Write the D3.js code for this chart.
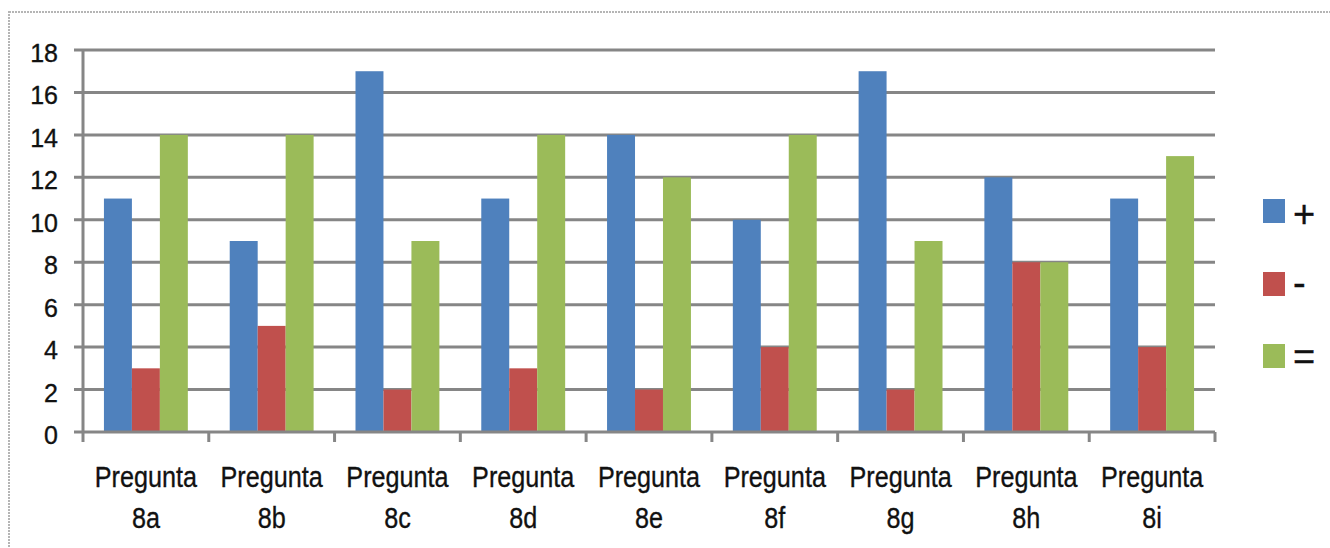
<!DOCTYPE html>
<html>
<head>
<meta charset="utf-8">
<script src="https://cdn.jsdelivr.net/npm/d3@7"></script>
<style>
  html, body { margin: 0; padding: 0; background: #fff; }
  svg { display: block; }
  text { font-family: "Liberation Sans", Arial, sans-serif; fill: #111; stroke: #111; stroke-width: 0.35px; }
</style>
</head>
<body>
<svg id="chart" width="1330" height="548"></svg>
<script>
const categories = ["8a", "8b", "8c", "8d", "8e", "8f", "8g", "8h", "8i"];
const seriesNames = ["+", "-", "="];
const seriesColors = ["#4F81BD", "#C0504D", "#9BBB59"];
const plusValues = [11, 9, 17, 11, 14, 10, 17, 12, 11];
const minusValues = [3, 5, 2, 3, 2, 4, 2, 8, 4];
const equalValues = [14, 14, 9, 14, 12, 14, 9, 8, 13];
const yTicks = [0, 2, 4, 6, 8, 10, 12, 14, 16, 18];

const series = [plusValues, minusValues, equalValues];

const svg = d3.select("#chart");

// outer dotted border
svg.append("rect")
  .attr("x", 9).attr("y", 12)
  .attr("width", 1340).attr("height", 600)
  .attr("fill", "none")
  .attr("stroke", "#b5b5b5")
  .attr("stroke-width", 2)
  .attr("stroke-dasharray", "2,1");

const pLeft = 83, pRight = 1215, pTop = 50, pBottom = 432;

const x = d3.scaleBand().domain(categories).range([pLeft, pRight])
  .paddingInner(0.333).paddingOuter(0.1665);
const xs = d3.scaleBand().domain(d3.range(series.length)).range([0, x.bandwidth()]);
const y = d3.scaleLinear().domain([0, 18]).range([pBottom, pTop]);

const gridColor = "#868686";

// gridlines (with left tick extension)
svg.append("g").selectAll("line").data(yTicks.filter(d => d > 0)).join("line")
  .attr("x1", pLeft - 9).attr("x2", pRight)
  .attr("y1", d => y(d)).attr("y2", d => y(d))
  .attr("stroke", gridColor).attr("stroke-width", 3);

// y tick labels
svg.append("g").selectAll("text").data(yTicks).join("text")
  .attr("x", 58).attr("y", d => y(d) + 12)
  .attr("text-anchor", "end")
  .attr("font-size", 25)
  .text(d => d);

// bars
const groups = svg.append("g").selectAll("g").data(categories).join("g")
  .attr("transform", d => `translate(${x(d)},0)`);
groups.selectAll("rect")
  .data((d, i) => series.map((s, k) => ({ k, v: s[i] })))
  .join("rect")
  .attr("x", d => xs(d.k))
  .attr("width", xs.bandwidth())
  .attr("y", d => y(d.v))
  .attr("height", d => y(0) - y(d.v))
  .attr("fill", d => seriesColors[d.k]);

// y axis line
svg.append("line")
  .attr("x1", pLeft).attr("x2", pLeft)
  .attr("y1", pTop).attr("y2", pBottom)
  .attr("stroke", gridColor).attr("stroke-width", 3);

// x axis line with tick extension on left
svg.append("line")
  .attr("x1", pLeft - 9).attr("x2", pRight)
  .attr("y1", pBottom).attr("y2", pBottom)
  .attr("stroke", gridColor).attr("stroke-width", 3);

// x ticks at category boundaries
const bnds = d3.range(categories.length + 1).map(i => pLeft + i * x.step());
svg.append("g").selectAll("line").data(bnds).join("line")
  .attr("x1", d => d).attr("x2", d => d)
  .attr("y1", pBottom).attr("y2", pBottom + 10)
  .attr("stroke", gridColor).attr("stroke-width", 3);

// x labels
const lab = svg.append("g").selectAll("g").data(categories).join("g")
  .attr("transform", d => `translate(${x(d) + x.bandwidth() / 2},0)`);
lab.append("text")
  .attr("text-anchor", "middle")
  .attr("font-size", 30)
  .attr("transform", "translate(0,487) scale(0.84,1)")
  .text("Pregunta");
lab.append("text")
  .attr("text-anchor", "middle")
  .attr("font-size", 30)
  .attr("transform", "translate(0,528) scale(0.84,1)")
  .text(d => d);

// legend
const legendY = [199, 272, 344];
const leg = svg.append("g").selectAll("g").data(seriesNames).join("g")
  .attr("transform", (d, i) => `translate(1263,${legendY[i]})`);
leg.append("rect")
  .attr("width", 22).attr("height", 24)
  .attr("fill", (d, i) => seriesColors[i]);
leg.append("text")
  .attr("x", 30).attr("y", (d, i) => [28, 24, 26][i])
  .attr("font-size", 38)
  .text(d => d);
</script>
</body>
</html>
